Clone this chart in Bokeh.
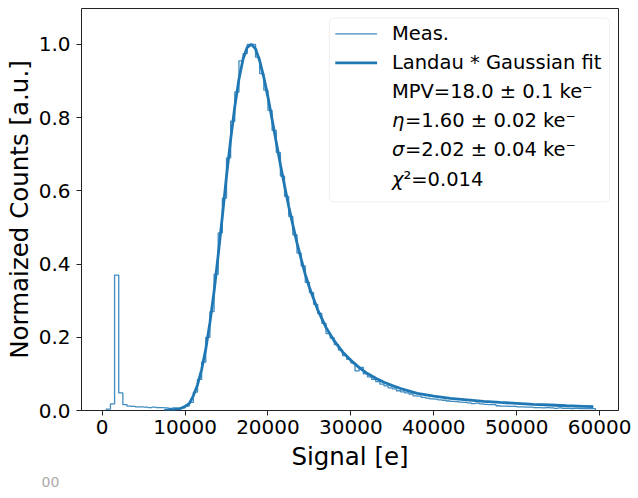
import numpy as np
from bokeh.plotting import figure
from bokeh.models import Range1d, FixedTicker, PrintfTickFormatter, Label, BoxAnnotation, Title
from bokeh.embed import file_html
from bokeh.resources import INLINE

# Measured signal histogram: 500 e bins from 500 e to 59500 e, normalised to the peak
bin_edges = np.arange(500, 59501, 500)
counts = [
    0.004, 0.018, 0.370, 0.048, 0.016, 0.012, 0.011, 0.010, 0.010, 0.009,
    0.008, 0.009, 0.008, 0.008, 0.007, 0.006, 0.007, 0.006, 0.007, 0.012,
    0.022, 0.050, 0.085, 0.132, 0.200, 0.270, 0.372, 0.485, 0.580, 0.690,
    0.790, 0.870, 0.955, 0.975, 1.000, 1.000, 0.965, 0.920, 0.875, 0.820,
    0.765, 0.705, 0.640, 0.585, 0.530, 0.480, 0.430, 0.395, 0.350, 0.322,
    0.290, 0.265, 0.238, 0.210, 0.198, 0.180, 0.165, 0.150, 0.140, 0.130,
    0.108, 0.118, 0.100, 0.092, 0.085, 0.079, 0.072, 0.067, 0.062, 0.059,
    0.054, 0.051, 0.048, 0.045, 0.040, 0.039, 0.036, 0.034, 0.032, 0.031,
    0.029, 0.028, 0.026, 0.025, 0.024, 0.023, 0.022, 0.021, 0.019, 0.020,
    0.018, 0.017, 0.016, 0.016, 0.013, 0.012, 0.012, 0.011, 0.011, 0.010,
    0.010, 0.009, 0.009, 0.008, 0.008, 0.007, 0.008, 0.007, 0.006, 0.007,
    0.006, 0.006, 0.005, 0.006, 0.005, 0.005, 0.005, 0.005,
]

# Landau * Gaussian fit curve
fit_x = [
    7500, 8500, 9500, 10000, 10500, 11000, 11500, 12000, 12500, 13000,
    13500, 14000, 14500, 15000, 15500, 16000, 16500, 17000, 17500, 18000,
    18500, 19000, 19500, 20000, 20500, 21000, 21500, 22000, 22500, 23000,
    23500, 24000, 24500, 25000, 26000, 27000, 28000, 29000, 30000, 31000,
    32000, 33000, 34000, 35000, 36000, 38000, 40000, 42000, 44000, 46000,
    48000, 50000, 52000, 54000, 56000, 58000, 59250,
]
fit_y = [
    0.000, 0.002, 0.006, 0.011, 0.019, 0.040, 0.070, 0.112, 0.168, 0.240,
    0.325, 0.425, 0.530, 0.640, 0.740, 0.830, 0.905, 0.960, 0.992, 1.000,
    0.988, 0.955, 0.910, 0.856, 0.795, 0.733, 0.672, 0.614, 0.558, 0.507,
    0.458, 0.414, 0.372, 0.336, 0.275, 0.227, 0.190, 0.160, 0.137, 0.117,
    0.101, 0.088, 0.077, 0.068, 0.060, 0.047, 0.039, 0.033, 0.029, 0.025,
    0.022, 0.0195, 0.017, 0.015, 0.013, 0.0115, 0.0105,
]

x_ticks = [0, 10000, 20000, 30000, 40000, 50000, 60000]
y_ticks = [0.0, 0.2, 0.4, 0.6, 0.8, 1.0]

legend_lines = [
    ("", "MPV=18.0 ± 0.1 ke⁻"),
    ("η", "=1.60 ± 0.02 ke⁻"),
    ("σ", "=2.02 ± 0.04 ke⁻"),
    ("χ", "²=0.014"),
]

BLUE = "#1f77b4"
FONT = "DejaVu Sans"

p = figure(width=638, height=498, output_backend="svg", toolbar_location=None,
           x_range=Range1d(-2490, 62280), y_range=Range1d(0, 1.098),
           min_border_left=78, min_border_right=20, min_border_top=8,
           min_border_bottom=88)
p.grid.visible = False
p.outline_line_color = "#222222"
p.outline_line_width = 1
p.background_fill_color = "white"
p.border_fill_color = "white"

# step outline of the histogram
edges = np.asarray(bin_edges, dtype=float)
vals = np.asarray(counts, dtype=float)
sx = np.concatenate([[edges[0]], np.repeat(edges, 2)[1:-1], [edges[-1]]])
sy = np.concatenate([[0.0], np.repeat(vals, 2), [0.0]])
p.line(sx, sy, line_color=BLUE, line_width=1.3, line_alpha=0.85)

p.line(fit_x, fit_y, line_color=BLUE, line_width=2.8)

for ax in (p.xaxis[0], p.yaxis[0]):
    ax.axis_line_color = None
    ax.major_tick_line_color = "#222222"
    ax.major_tick_line_width = 1
    ax.major_tick_in = 0
    ax.major_tick_out = 5
    ax.minor_tick_line_color = None
    ax.major_label_text_font = FONT
    ax.major_label_text_font_size = "20px"
    ax.major_label_text_color = "black"

p.xaxis.major_label_standoff = 4
p.yaxis.major_label_standoff = 6
p.xaxis.ticker = FixedTicker(ticks=x_ticks)
p.xaxis.formatter = PrintfTickFormatter(format="%d")
p.yaxis.ticker = FixedTicker(ticks=y_ticks)
p.yaxis.formatter = PrintfTickFormatter(format="%.1f")

# axis titles as side panels so they can be nudged along the axis
title_style = dict(text_font=FONT, text_font_size="24.5px", text_font_style="normal",
                   text_color="black", align="center")
p.add_layout(Title(text="Normaized Counts [a.u.]", offset=34, standoff=4, **title_style), "left")
p.add_layout(Title(text="Signal [e]", offset=11, standoff=6, **title_style), "below")

# clipped fragment of a caption below the figure
p.add_layout(Title(text="00", align="left", offset=-40, standoff=2, text_font=FONT,
                   text_font_size="14px", text_font_style="normal",
                   text_color="#aaaaaa"), "below")

# legend frame
p.add_layout(BoxAnnotation(left=27405, right=61200, bottom=0.570, top=1.072,
                           fill_color="white", fill_alpha=0.8,
                           line_color="#cccccc", line_width=1,
                           border_radius=4, level="underlay"))

# legend samples
p.line([28120, 33160], [1.0287, 1.0287], line_color=BLUE, line_width=1.3, line_alpha=0.85)
p.line([28120, 33160], [0.9495, 0.9495], line_color=BLUE, line_width=2.8)

text_x = 34950
row_y = [1.0287, 0.9495, 0.8702, 0.7910, 0.7117, 0.6300]
common = dict(text_font=FONT, text_font_size="19.5px", text_baseline="middle",
              text_color="black")
p.add_layout(Label(x=text_x, y=row_y[0], text="Meas.", **common))
p.add_layout(Label(x=text_x, y=row_y[1], text="Landau * Gaussian fit", **common))
for (sym, rest), y in zip(legend_lines, row_y[2:]):
    off = 0
    if sym:
        p.add_layout(Label(x=text_x, y=y, text=sym, text_font_style="italic", **common))
        off = 13 if sym != "χ" else 11.5
    p.add_layout(Label(x=text_x, y=y, x_offset=off, text=rest, **common))

open("out.html", "w").write(file_html(p, INLINE))
